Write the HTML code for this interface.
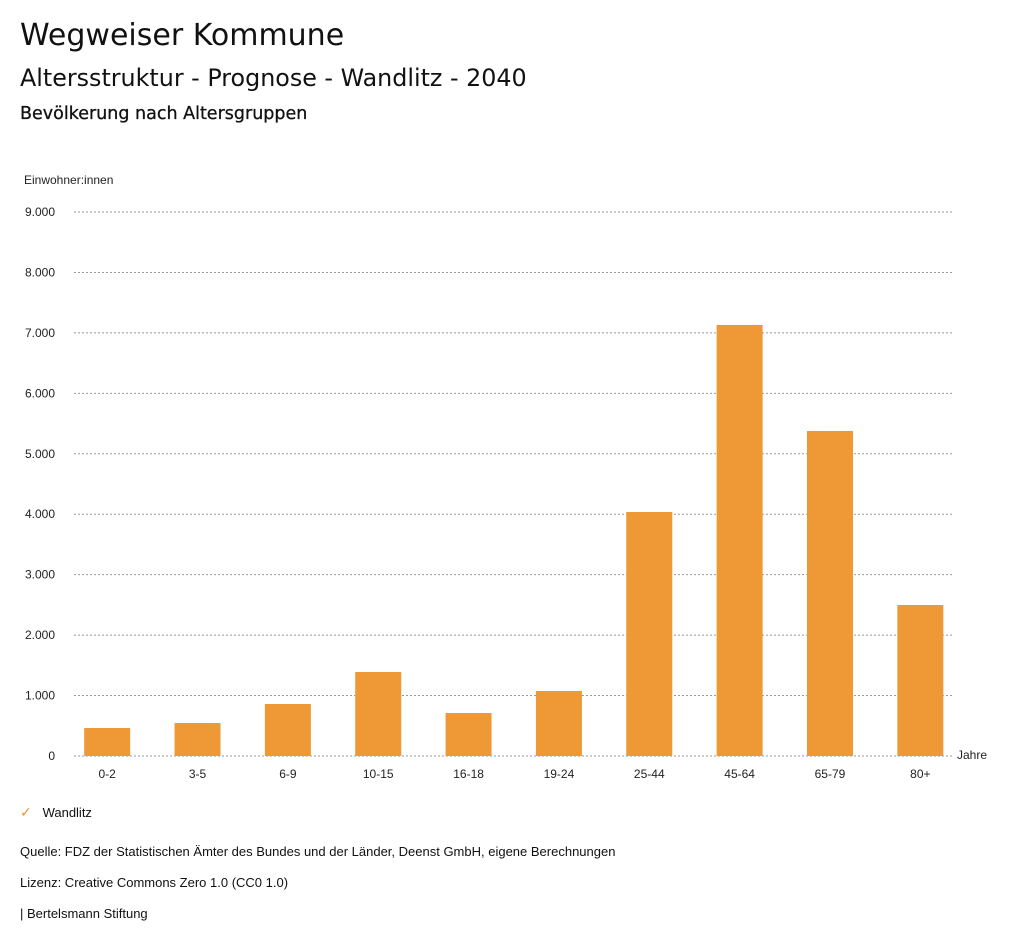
<!DOCTYPE html>
<html><head><meta charset="utf-8">
<style>
body{margin:0;width:1024px;height:946px;background:#fff;font-family:"Liberation Sans",sans-serif;color:#111;position:relative;overflow:hidden}
.t{position:absolute;white-space:nowrap}
.d{font-family:"DejaVu Sans",sans-serif}
</style></head><body>
<div class="t d" style="left:20px;top:18px;font-size:30px">Wegweiser Kommune</div>
<div class="t d" style="left:20px;top:64px;font-size:23.8px">Altersstruktur - Prognose - Wandlitz - 2040</div>
<div class="t d" style="left:20px;top:104px;font-size:17.5px;-webkit-text-stroke:0.3px #111">Bevölkerung nach Altersgruppen</div>
<svg id="chart" width="1024" height="946" style="position:absolute;left:0;top:0;font-family:'Liberation Sans',sans-serif"></svg>
<div class="t" style="left:20px;top:804px;font-size:13px"><span style="color:#ee9836;font-size:14px">✓</span>&nbsp;&nbsp;&nbsp;Wandlitz</div>
<div class="t" style="left:20px;top:844px;font-size:13px">Quelle: FDZ der Statistischen Ämter des Bundes und der Länder, Deenst GmbH, eigene Berechnungen</div>
<div class="t" style="left:20px;top:875px;font-size:13px">Lizenz: Creative Commons Zero 1.0 (CC0 1.0)</div>
<div class="t" style="left:20px;top:906px;font-size:13px">| Bertelsmann Stiftung</div>
<script>
const categories=["0-2","3-5","6-9","10-15","16-18","19-24","25-44","45-64","65-79","80+"];
const values=[463,546,860,1390,711,1075,4037,7131,5377,2498];
const yTicks=[0,1000,2000,3000,4000,5000,6000,7000,8000,9000];
const yTickLabels=["0","1.000","2.000","3.000","4.000","5.000","6.000","7.000","8.000","9.000"];
const svg=document.getElementById('chart');
const NS='http://www.w3.org/2000/svg';
const y0=756,pxPer=544/9000,x0=62,step=90.35,bw=46;
const y=v=>y0-v*pxPer;
const xc=i=>x0+step*(i+0.5);
function mk(tag,attrs,text){const e=document.createElementNS(NS,tag);for(const k in attrs)e.setAttribute(k,attrs[k]);if(text!==undefined)e.textContent=text;svg.appendChild(e);return e;}
yTicks.forEach((v,i)=>{
  const l=mk('line',{x1:74,x2:953,y1:y(v),y2:y(v),stroke:'#999','stroke-dasharray':'2,2','stroke-width':1});
  
  
  const t=mk('text',{x:55,y:y(v)+4,'text-anchor':'end','font-size':12,fill:'#222'},yTickLabels[i]);
  
  
});
values.forEach((v,i)=>{
  const r=mk('rect',{x:xc(i)-bw/2,y:y(v),width:bw,height:y0-y(v),fill:'#ee9836'});
  
  
  const t=mk('text',{x:xc(i),y:778,'text-anchor':'middle','font-size':12,fill:'#222'},categories[i]);
  
  
});
const yt=mk('text',{x:24,y:184,'font-size':12,fill:'#222'},'Einwohner:innen');


const xt=mk('text',{x:957,y:759,'font-size':12,fill:'#222'},'Jahre');


</script>
</body></html>
